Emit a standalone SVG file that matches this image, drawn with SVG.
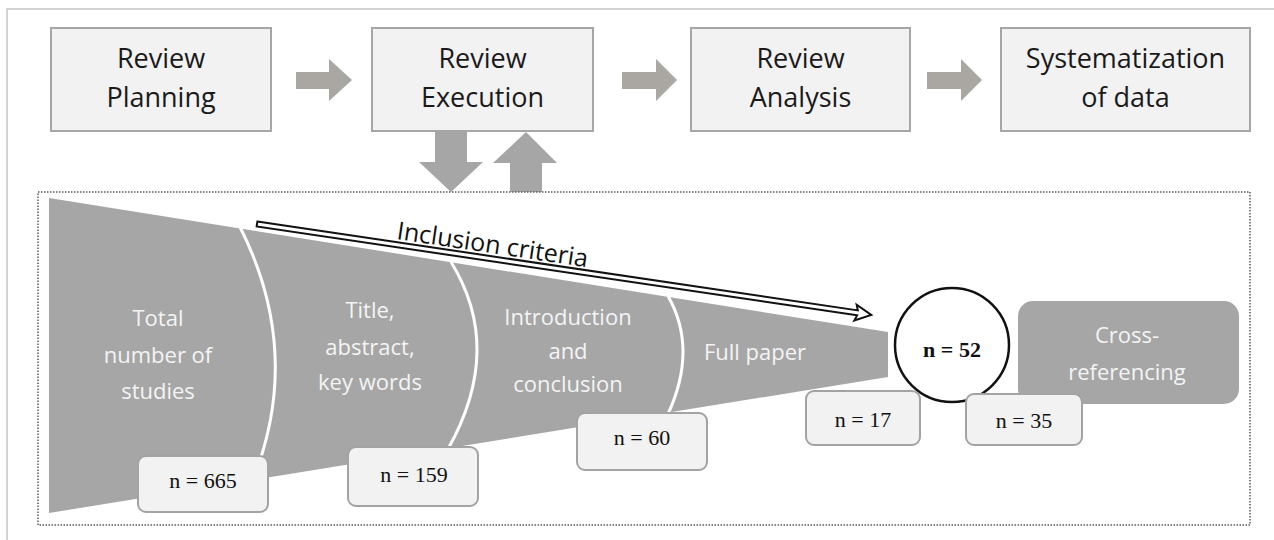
<svg xmlns="http://www.w3.org/2000/svg" width="1274" height="540" viewBox="0 0 1274 540">
  <style>
    .step rect { fill: #f2f2f2; stroke: #a6a6a6; stroke-width: 2; }
    .step text { font-family: "Open Sans", "Liberation Sans", sans-serif; font-size: 27px; fill: #1a1a1a; text-anchor: middle; }
    .flow { fill: #aaa6a2; }
    .vert { fill: #a6a6a6; }
    .seg { font-family: "Open Sans", "Liberation Sans", sans-serif; font-size: 22px; fill: #f4f4f4; text-anchor: middle; }
    .count rect { fill: #f2f2f2; stroke: #a3a3a3; stroke-width: 2; }
    .count text { font-family: "Liberation Serif", "Times New Roman", serif; font-size: 22px; fill: #111; text-anchor: middle; }
    .divider { fill: none; stroke: #ffffff; stroke-width: 3; }
  </style>

  <!-- page frame -->
  <path d="M7,540 V9 H1274" fill="none" stroke="#d3d3d3" stroke-width="2"/>

  <!-- top process steps -->
  <g id="review-planning" class="step">
    <rect x="51" y="28" width="220" height="103"/>
    <text x="161" y="68">Review</text>
    <text x="161" y="107">Planning</text>
  </g>
  <g id="review-execution" class="step">
    <rect x="372" y="28" width="221" height="103"/>
    <text x="482.5" y="68">Review</text>
    <text x="482.5" y="107">Execution</text>
  </g>
  <g id="review-analysis" class="step">
    <rect x="691" y="28" width="219" height="103"/>
    <text x="800.5" y="68">Review</text>
    <text x="800.5" y="107">Analysis</text>
  </g>
  <g id="systematization" class="step">
    <rect x="1001" y="28" width="249" height="103"/>
    <text x="1125.5" y="68">Systematization</text>
    <text x="1125.5" y="107">of data</text>
  </g>

  <!-- block arrows between steps -->
  <g id="connectors">
    <polygon class="flow" points="296,72 329,72 329,59 352,80 329,101 329,89 296,89"/>
    <polygon class="flow" points="622,72 656,72 656,59 677,80 656,101 656,89 622,89"/>
    <polygon class="flow" points="927,72 961,72 961,59 982,80 961,101 961,89 927,89"/>
    <polygon class="vert" points="435,132 467,132 467,162 483,162 451,192 419,162 435,162"/>
    <polygon class="vert" points="510,192 542,192 542,163 557,163 526,132 493,163 510,163"/>
  </g>

  <!-- execution detail container -->
  <rect x="38" y="192" width="1212" height="333" fill="none" stroke="#5a5a5a" stroke-width="1.5" stroke-dasharray="1.5 1.5"/>

  <!-- screening funnel -->
  <g id="funnel">
    <path d="M49,198 L888,332 L888,377 L49,513 Z" fill="#a6a6a6"/>
    <path class="divider" d="M240,227 Q304,354 252,482"/>
    <path class="divider" d="M451,262 Q504.5,348.5 448,449"/>
    <path class="divider" d="M668,296 Q698,349 668,414"/>
    <text class="seg" x="158" y="326" font-size="23">Total</text>
    <text class="seg" x="158" y="363" font-size="23">number of</text>
    <text class="seg" x="158" y="399" font-size="23">studies</text>
    <text class="seg" x="370" y="318" font-size="23">Title,</text>
    <text class="seg" x="370" y="355" font-size="23">abstract,</text>
    <text class="seg" x="370" y="390" font-size="23">key words</text>
    <text class="seg" x="568" y="325">Introduction</text>
    <text class="seg" x="568" y="359">and</text>
    <text class="seg" x="568" y="392">conclusion</text>
    <text class="seg" x="755" y="360" font-size="21">Full paper</text>
  </g>

  <!-- inclusion criteria arrow -->
  <g id="inclusion-criteria">
    <g transform="translate(257,224) rotate(8.42)">
      <polygon points="0,-2.5 607,-2.5 605,-8 621,0 605,8 607,2.5 0,2.5" fill="#ffffff" stroke="#111" stroke-width="2" stroke-linejoin="miter"/>
    </g>
    <text transform="translate(396,239) rotate(8.42)" font-family="Open Sans, Liberation Sans, sans-serif" font-size="25" fill="#111">Inclusion criteria</text>
  </g>

  <!-- final set -->
  <g id="final-set">
    <circle cx="952" cy="345" r="57" fill="#ffffff" stroke="#111" stroke-width="2.5"/>
    <text x="952" y="357" font-family="Liberation Serif, Times New Roman, serif" font-size="22" font-weight="bold" fill="#111" text-anchor="middle">n = 52</text>
  </g>

  <g id="cross-referencing">
    <rect x="1018" y="301" width="221" height="103" rx="15" fill="#a6a6a6"/>
    <text class="seg" x="1127" y="343" font-size="24">Cross-</text>
    <text class="seg" x="1127" y="380" font-size="24">referencing</text>
  </g>

  <!-- counts per stage -->
  <g id="count-665" class="count">
    <rect x="138" y="456" width="130" height="56" rx="8"/>
    <text x="203" y="488">n = 665</text>
  </g>
  <g id="count-159" class="count">
    <rect x="348" y="447" width="130" height="59" rx="8"/>
    <text x="414" y="482">n = 159</text>
  </g>
  <g id="count-60" class="count">
    <rect x="577" y="413" width="130" height="57" rx="8"/>
    <text x="642" y="445">n = 60</text>
  </g>
  <g id="count-17" class="count">
    <rect x="806" y="391" width="114" height="54" rx="8"/>
    <text x="863" y="427">n = 17</text>
  </g>
  <g id="count-35" class="count">
    <rect x="966" y="394" width="116" height="51" rx="8"/>
    <text x="1024" y="428">n = 35</text>
  </g>
</svg>
